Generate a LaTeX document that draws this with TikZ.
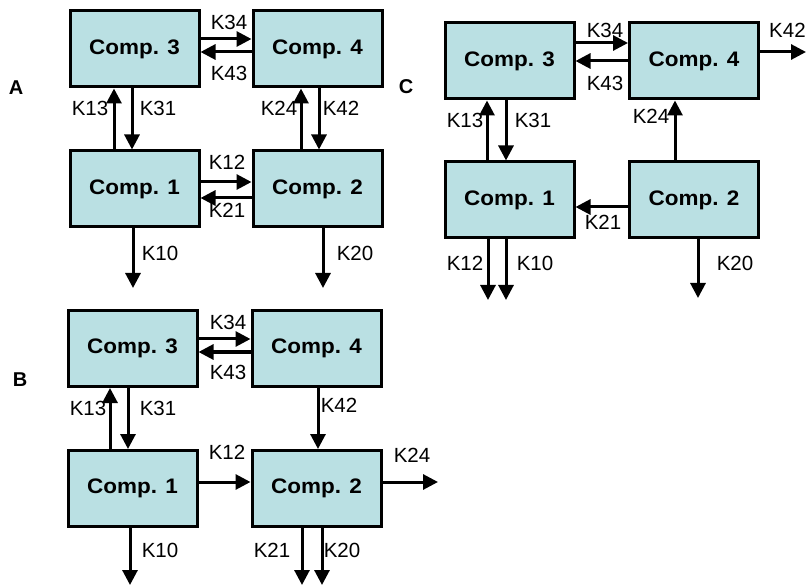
\documentclass[tikz,border=0pt]{standalone}
\usepackage{fontspec}
\setmainfont{Liberation Sans}
\usetikzlibrary{arrows.meta}
\definecolor{boxfill}{RGB}{186,224,227}
\tikzset{
  comp/.style={draw=black, line width=3pt, fill=boxfill, minimum width=129pt, minimum height=76pt, inner sep=0pt,
    font=\fontsize{21}{23}\selectfont\bfseries\addfontfeatures{FakeStretch=1.07}},
  arr/.style={line width=3pt, -{Triangle[length=15pt,width=15pt]}},
  klab/.style={font=\fontsize{20.5}{22}\selectfont, inner sep=0pt},
  panel/.style={font=\fontsize{20}{22}\selectfont\bfseries, inner sep=0pt}
}
\begin{document}
\begin{tikzpicture}[x=1pt,y=-1pt]
\useasboundingbox (0,0) rectangle (806,585);
% ---------- Panel A ----------
\node[panel] (LA) at (16,88) {A};
\node[comp] (A3) at (134.5,49) {Comp. 3};
\node[comp] (A4) at (317.5,49) {Comp. 4};
\node[comp] (A1) at (134.5,189) {Comp. 1};
\node[comp] (A2) at (317.5,189) {Comp. 2};
\coordinate (A10) at (133,288);
\coordinate (A20) at (323,288);
\draw[arr] (A3.east|-0,39) -- (A4.west|-0,39);
\draw[arr] (A4.west|-0,52) -- (A3.east|-0,52);
\draw[arr] (A1.north-|114,0) -- (A3.south-|114,0);
\draw[arr] (A3.south-|132,0) -- (A1.north-|132,0);
\draw[arr] (A2.north-|301,0) -- (A4.south-|301,0);
\draw[arr] (A4.south-|319,0) -- (A2.north-|319,0);
\draw[arr] (A1.east|-0,182) -- (A2.west|-0,182);
\draw[arr] (A2.west|-0,198) -- (A1.east|-0,198);
\draw[arr] (A1.south-|133,0) -- (A10);
\draw[arr] (A2.south-|323,0) -- (A20);
\node[klab] (a34) at (229,22) {K34};
\node[klab] (a43) at (229,73) {K43};
\node[klab] (a13) at (90,108) {K13};
\node[klab] (a31) at (158,108) {K31};
\node[klab] (a24) at (279,108) {K24};
\node[klab] (a42) at (341,108) {K42};
\node[klab] (a12) at (227,162) {K12};
\node[klab] (a21) at (227,210) {K21};
\node[klab] (a10) at (160,253) {K10};
\node[klab] (a20) at (355,253) {K20};
% ---------- Panel C ----------
\node[panel] (LC) at (406,87) {C};
\node[comp] (C3) at (509.5,61) {Comp. 3};
\node[comp] (C4) at (694,61) {Comp. 4};
\node[comp] (C1) at (509.5,200) {Comp. 1};
\node[comp] (C2) at (694,200) {Comp. 2};
\coordinate (C42) at (806,52);
\coordinate (C12) at (488,300);
\coordinate (C10) at (506,300);
\coordinate (C20) at (698,298);
\draw[arr] (C3.east|-0,43) -- (C4.west|-0,43);
\draw[arr] (C4.west|-0,61) -- (C3.east|-0,61);
\draw[arr] (C4.east|-0,52) -- (C42);
\draw[arr] (C1.north-|487,0) -- (C3.south-|487,0);
\draw[arr] (C3.south-|506,0) -- (C1.north-|506,0);
\draw[arr] (C2.north-|675,0) -- (C4.south-|675,0);
\draw[arr] (C2.west|-0,207) -- (C1.east|-0,207);
\draw[arr] (C1.south-|488,0) -- (C12);
\draw[arr] (C1.south-|506,0) -- (C10);
\draw[arr] (C2.south-|698,0) -- (C20);
\node[klab] (c34) at (605,30) {K34};
\node[klab] (c43) at (605,83) {K43};
\node[klab, anchor=west] (c42) at (769,30) {K42};
\node[klab] (c13) at (465,120) {K13};
\node[klab] (c31) at (533,120) {K31};
\node[klab] (c24) at (651,116) {K24};
\node[klab] (c21) at (603,222) {K21};
\node[klab] (c12) at (465,263) {K12};
\node[klab] (c10) at (535,263) {K10};
\node[klab] (c20) at (735,263) {K20};
% ---------- Panel B ----------
\node[panel] (LB) at (20,380) {B};
\node[comp] (B3) at (132.5,348.5) {Comp. 3};
\node[comp] (B4) at (316.5,348.5) {Comp. 4};
\node[comp] (B1) at (132.5,488.5) {Comp. 1};
\node[comp] (B2) at (316.5,488.5) {Comp. 2};
\coordinate (B24) at (438,482);
\coordinate (B10) at (130,585);
\coordinate (B21) at (302,585);
\coordinate (B20) at (322,585);
\draw[arr] (B3.east|-0,339) -- (B4.west|-0,339);
\draw[arr] (B4.west|-0,352) -- (B3.east|-0,352);
\draw[arr] (B1.north-|110,0) -- (B3.south-|110,0);
\draw[arr] (B3.south-|128,0) -- (B1.north-|128,0);
\draw[arr] (B4.south-|318,0) -- (B2.north-|318,0);
\draw[arr] (B1.east|-0,482) -- (B2.west|-0,482);
\draw[arr] (B2.east|-0,482) -- (B24);
\draw[arr] (B1.south-|130,0) -- (B10);
\draw[arr] (B2.south-|302,0) -- (B21);
\draw[arr] (B2.south-|322,0) -- (B20);
\node[klab] (b34) at (228,322) {K34};
\node[klab] (b43) at (228,372) {K43};
\node[klab] (b13) at (88,408) {K13};
\node[klab] (b31) at (158,408) {K31};
\node[klab] (b42) at (339,405) {K42};
\node[klab] (b12) at (227,452) {K12};
\node[klab] (b24) at (412,455) {K24};
\node[klab] (b10) at (160,550) {K10};
\node[klab] (b21) at (272,550) {K21};
\node[klab] (b20) at (342,550) {K20};
\end{tikzpicture}
\end{document}
